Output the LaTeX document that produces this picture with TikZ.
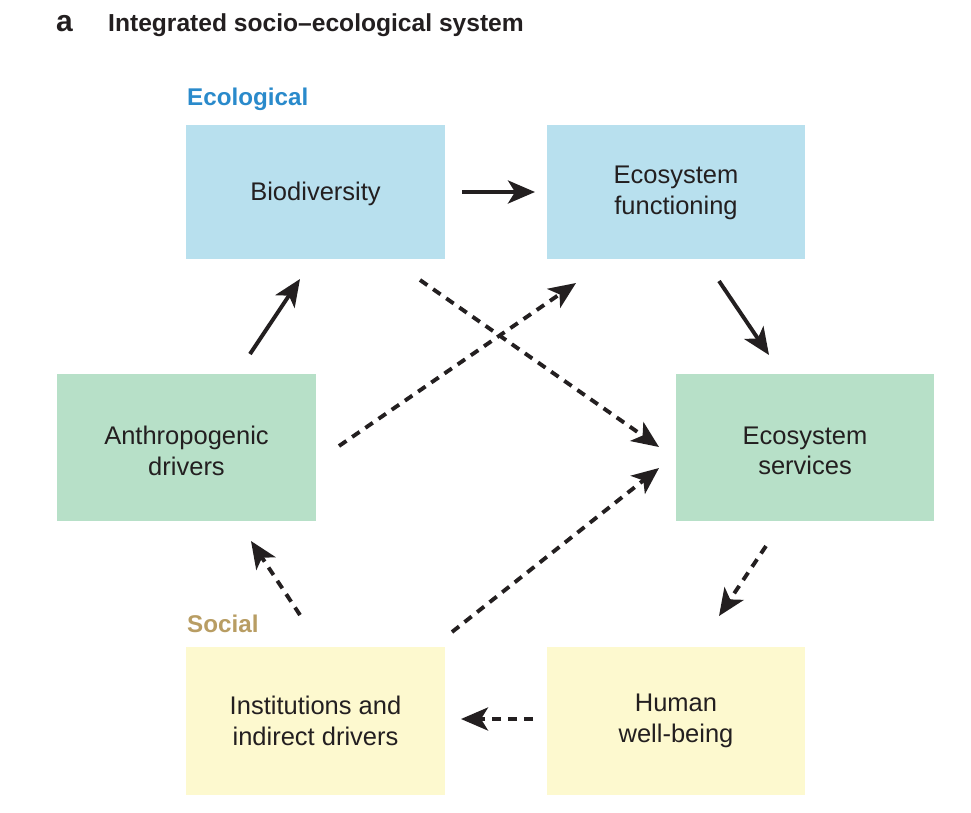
\documentclass[tikz,border=0pt]{standalone}
\usepackage{fontspec}
\setmainfont{Liberation Sans}
\usetikzlibrary{arrows.meta}
\definecolor{ecoblue}{HTML}{B8E0EE}
\definecolor{ecogreen}{HTML}{B7E0C8}
\definecolor{socyellow}{HTML}{FDF9CF}
\definecolor{labblue}{HTML}{2A8ACB}
\definecolor{labtan}{HTML}{B89D63}
\definecolor{ink}{HTML}{231F20}
\begin{document}
\begin{tikzpicture}[x=1pt,y=-1pt,
  boxbase/.style={inner sep=0pt, outer sep=0pt, align=center, text=ink,
    font=\fontsize{25.5}{30.5}\selectfont},
  bluebox/.style={boxbase, fill=ecoblue},
  greenbox/.style={boxbase, fill=ecogreen},
  yellowbox/.style={boxbase, fill=socyellow},
  solidarrow/.style={draw=ink, line width=3.9pt, -{Stealth[length=27pt,width=23pt,inset=7pt]}},
  dasharrow/.style={solidarrow, dash pattern=on 9pt off 7pt},
  grouplabel/.style={anchor=base west, inner sep=0pt, font=\bfseries\fontsize{24.2}{29}\selectfont}
]
\useasboundingbox (0,0) rectangle (971,812);
% boxes
\path[fill=ecoblue] (186,125) rectangle (445,259);
\node[bluebox] (bio) at (315.5,194) {Biodiversity};
\path[fill=ecoblue] (547,125) rectangle (805,259);
\node[bluebox] (ef) at (676,193) {Ecosystem\\functioning};
\path[fill=ecogreen] (57,374) rectangle (316,521);
\node[greenbox] (ad) at (186.5,451) {Anthropogenic\\drivers};
\path[fill=ecogreen] (676,374) rectangle (934,521);
\node[greenbox] (es) at (805,451) {Ecosystem\\services};
\path[fill=socyellow] (186,647) rectangle (445,795);
\node[yellowbox] (inst) at (315.5,721) {Institutions and\\indirect drivers};
\path[fill=socyellow] (547,647) rectangle (805,795);
\node[yellowbox] (hwb) at (676,721) {Human\\well-being};
% labels
\node[anchor=base west, inner sep=0pt, text=ink, font=\bfseries\fontsize{30}{34}\selectfont] (tA) at (56,31) {a};
\node[anchor=base west, inner sep=0pt, text=ink, font=\bfseries\fontsize{24.6}{29}\selectfont] (title) at (108,31) {Integrated socio–ecological system};
\node[grouplabel, text=labblue] (ecol) at (187,105) {Ecological};
\node[grouplabel, text=labtan] (soc) at (187,632) {Social};
% connector endpoints
\coordinate (a1) at (462,192); \coordinate (a2) at (535,192);
\coordinate (b1) at (719,281); \coordinate (b2) at (769,355);
\coordinate (c1) at (250,354); \coordinate (c2) at (300,279);
\coordinate (d1) at (420,280); \coordinate (d2) at (659,447);
\coordinate (e1) at (339,446); \coordinate (e2) at (576,283);
\coordinate (f1) at (452,632); \coordinate (f2) at (659,468);
\coordinate (g1) at (766,546); \coordinate (g2) at (719,616);
\coordinate (h1) at (533,719); \coordinate (h2) at (461,719);
\coordinate (i1) at (300,615); \coordinate (i2) at (251,541);
% arrows
\draw[solidarrow] (a1) -- (a2);
\draw[solidarrow] (b1) -- (b2);
\draw[solidarrow] (c1) -- (c2);
\draw[dasharrow] (d1) -- (d2);
\draw[dasharrow] (e1) -- (e2);
\draw[dasharrow] (f1) -- (f2);
\draw[dasharrow] (g1) -- (g2);
\draw[dasharrow] (h1) -- (h2);
\draw[dasharrow] (i1) -- (i2);
\end{tikzpicture}
\end{document}
